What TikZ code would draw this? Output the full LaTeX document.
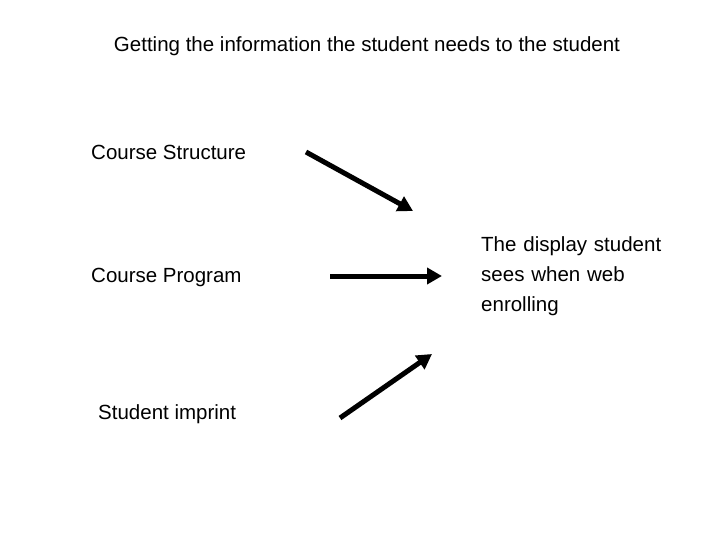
\documentclass[tikz,border=0pt]{standalone}
\usepackage{fontspec}
\setmainfont{Liberation Sans}
\usetikzlibrary{arrows.meta}
\begin{document}
\begin{tikzpicture}[x=1pt,y=-1pt,
  lbl/.style={anchor=west,inner sep=0pt,font=\fontsize{20.5}{30}\selectfont},
  arr/.style={line width=5pt,-{Triangle[length=15pt,width=16pt]}}]
\useasboundingbox (0,0) rectangle (720,540);
\node[inner sep=0pt,font=\fontsize{20.5}{30}\selectfont] (title) at (367,46) {Getting the information the student needs to the student};
\node[lbl] (cs) at (91,152) {Course Structure};
\node[lbl] (cp) at (91,277) {Course Program};
\node[lbl] (si) at (98,414) {Student imprint};
\node[lbl,align=left,text width=240pt] (disp) at (481,276) {The display student\\sees when web\\enrolling};
\coordinate (a1s) at (306,152); \coordinate (a1e) at (413,211);
\coordinate (a2s) at (330,276); \coordinate (a2e) at (442,276);
\coordinate (a3s) at (340,418); \coordinate (a3e) at (432,354);
\draw[arr] (a1s) -- (a1e);
\draw[arr] (a2s) -- (a2e);
\draw[arr] (a3s) -- (a3e);
\end{tikzpicture}
\end{document}
